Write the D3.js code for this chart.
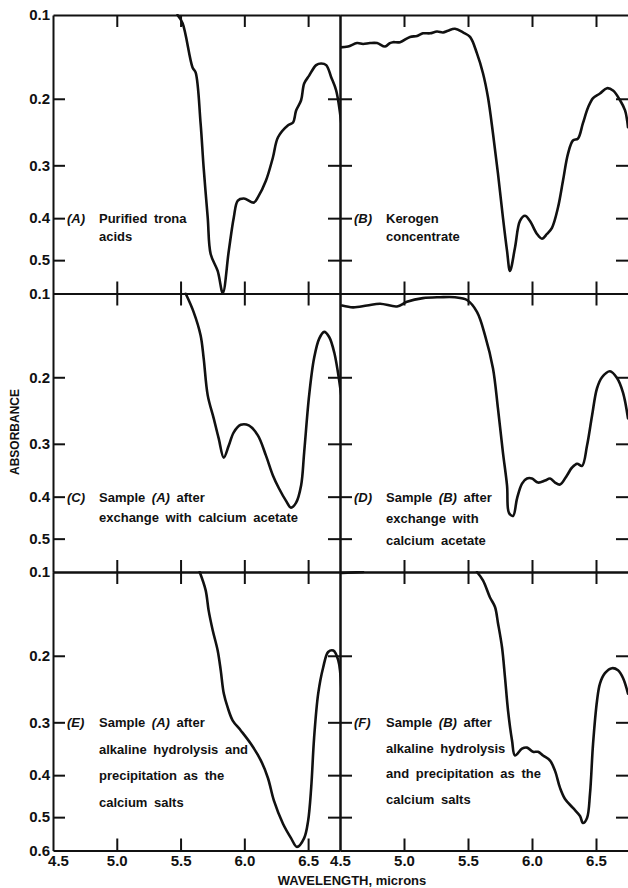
<!DOCTYPE html>
<html>
<head>
<meta charset="utf-8">
<script src="https://cdn.jsdelivr.net/npm/d3@7"></script>
<style>
  html, body { margin: 0; padding: 0; background: #fff; }
  svg { display: block; }
  text { font-family: "Liberation Sans", Arial, sans-serif; fill: #111; }
</style>
</head>
<body>
<svg id="chart" width="628" height="888"></svg>
<script>
// Wavelength axis (microns) and absorbance axis
const WAVE_TICKS = [4.5, 5.0, 5.5, 6.0, 6.5];
const WAVE_LABELS = ["4.5", "5.0", "5.5", "6.0", "6.5"];
const ABS_TICKS = [0.1, 0.2, 0.3, 0.4, 0.5, 0.6];
const ABS_LABELS = ["0.1", "0.2", "0.3", "0.4", "0.5", "0.6"];

// Spectra: [wavelength (microns), absorbance]
const specA = [
  [5.476,0.100],[5.516,0.109],[5.594,0.160],[5.618,0.166],[5.657,0.234],[5.681,0.304],
  [5.713,0.399],[5.736,0.484],[5.791,0.530],[5.831,0.598],[5.878,0.476],[5.917,0.399],
  [5.949,0.364],[5.996,0.360],[6.075,0.368],[6.106,0.358],[6.169,0.327],[6.224,0.287],
  [6.264,0.255],[6.343,0.237],[6.382,0.233],[6.406,0.216],[6.445,0.202],[6.469,0.180],
  [6.508,0.170],[6.563,0.157],[6.602,0.155],[6.642,0.157],[6.681,0.172],[6.720,0.189],
  [6.760,0.234]
];
const specB = [
  [4.500,0.136],[4.563,0.135],[4.633,0.131],[4.680,0.132],[4.734,0.131],[4.790,0.131],
  [4.852,0.135],[4.890,0.131],[4.914,0.130],[4.969,0.130],[5.047,0.124],[5.102,0.123],
  [5.148,0.120],[5.203,0.120],[5.258,0.118],[5.305,0.119],[5.344,0.117],[5.398,0.115],
  [5.461,0.119],[5.516,0.124],[5.570,0.143],[5.617,0.167],[5.656,0.198],[5.695,0.249],
  [5.734,0.314],[5.773,0.399],[5.805,0.476],[5.828,0.530],[5.867,0.468],[5.906,0.406],
  [5.945,0.395],[5.984,0.406],[6.039,0.435],[6.078,0.446],[6.117,0.435],[6.156,0.421],
  [6.203,0.378],[6.242,0.327],[6.281,0.281],[6.320,0.260],[6.359,0.257],[6.398,0.234],
  [6.438,0.212],[6.477,0.199],[6.531,0.193],[6.586,0.186],[6.633,0.189],[6.688,0.202],
  [6.727,0.216],[6.750,0.240]
];
const specC = [
  [5.540,0.100],[5.602,0.120],[5.657,0.147],[5.681,0.175],[5.713,0.225],[5.760,0.259],
  [5.799,0.291],[5.839,0.324],[5.878,0.303],[5.917,0.281],[5.972,0.269],[6.035,0.270],
  [6.106,0.286],[6.169,0.320],[6.224,0.357],[6.272,0.383],[6.327,0.409],[6.366,0.424],
  [6.406,0.413],[6.445,0.377],[6.469,0.315],[6.508,0.225],[6.547,0.175],[6.587,0.151],
  [6.626,0.143],[6.665,0.149],[6.705,0.168],[6.760,0.225]
];
const specD = [
  [4.516,0.113],[4.602,0.115],[4.711,0.113],[4.813,0.111],[4.945,0.114],[5.023,0.109],
  [5.148,0.105],[5.281,0.104],[5.398,0.104],[5.492,0.107],[5.570,0.120],[5.633,0.147],
  [5.695,0.188],[5.734,0.244],[5.773,0.315],[5.805,0.377],[5.820,0.436],[5.852,0.443],
  [5.883,0.404],[5.922,0.373],[5.961,0.363],[6.000,0.363],[6.047,0.371],[6.102,0.367],
  [6.141,0.363],[6.180,0.371],[6.219,0.375],[6.273,0.357],[6.313,0.342],[6.352,0.335],
  [6.391,0.339],[6.430,0.303],[6.469,0.255],[6.508,0.215],[6.547,0.200],[6.609,0.192],
  [6.664,0.201],[6.711,0.221],[6.750,0.259]
];
const specE = [
  [5.650,0.100],[5.697,0.120],[5.720,0.143],[5.752,0.167],[5.791,0.193],[5.815,0.220],
  [5.839,0.254],[5.870,0.276],[5.909,0.297],[5.972,0.314],[6.051,0.338],[6.130,0.370],
  [6.185,0.406],[6.232,0.458],[6.303,0.518],[6.366,0.560],[6.413,0.588],[6.469,0.560],
  [6.500,0.510],[6.524,0.428],[6.547,0.327],[6.579,0.254],[6.618,0.216],[6.657,0.195],
  [6.697,0.193],[6.736,0.206],[6.760,0.245]
];
const specF = [
  [5.570,0.100],[5.617,0.109],[5.672,0.128],[5.711,0.139],[5.734,0.158],[5.766,0.189],
  [5.789,0.230],[5.813,0.281],[5.844,0.332],[5.867,0.360],[5.922,0.347],[5.961,0.345],
  [6.008,0.353],[6.047,0.353],[6.086,0.360],[6.141,0.370],[6.180,0.391],[6.219,0.428],
  [6.258,0.454],[6.320,0.476],[6.375,0.497],[6.398,0.516],[6.430,0.502],[6.453,0.442],
  [6.477,0.338],[6.508,0.265],[6.531,0.239],[6.570,0.224],[6.625,0.217],[6.672,0.220],
  [6.711,0.231],[6.750,0.254]
];
const specFStart = [[4.516,0.101],[4.680,0.100]];

// Panel captions
const captionA = ["Purified trona", "acids"];
const captionB = ["Kerogen", "concentrate"];
const captionC = ["Sample (A) after", "exchange with calcium acetate"];
const captionD = ["Sample (B) after", "exchange with", "calcium acetate"];
const captionE = ["Sample (A) after", "alkaline hydrolysis and", "precipitation as the", "calcium salts"];
const captionF = ["Sample (B) after", "alkaline hydrolysis", "and precipitation as the", "calcium salts"];

const panels = [
  { tag: "(A)", col: 0, row: 0, series: [specA], caption: captionA, anchor: 0.4, gap: 18 },
  { tag: "(B)", col: 1, row: 0, series: [specB], caption: captionB, anchor: 0.4, gap: 18 },
  { tag: "(C)", col: 0, row: 1, series: [specC], caption: captionC, anchor: 0.4, gap: 20 },
  { tag: "(D)", col: 1, row: 1, series: [specD], caption: captionD, anchor: 0.4, gap: 21.5 },
  { tag: "(E)", col: 0, row: 2, series: [specE], caption: captionE, anchor: 0.3, gap: 26.5 },
  { tag: "(F)", col: 1, row: 2, series: [specF, specFStart], caption: captionF, anchor: 0.3, gap: 25.5 }
];

// ---- layout ----
const colX = [53, 340];
const colW = [287, 288];
const rowTop = r => 15 + r * 278.5;
const rowH = 278.5;
const TICK = 12;

const svg = d3.select("#chart");
const defs = svg.append("defs");

// Absorbance is plotted on a transmittance-linear scale
const trans = a => Math.pow(10, -a);

const xScale = c => d3.scaleLinear().domain([4.5, 6.75]).range([colX[c], colX[c] + colW[c]]);
const yScale = r => d3.scaleLinear().domain([trans(0.1), trans(0.6)]).range([rowTop(r), rowTop(r) + rowH]);

const innerX = WAVE_TICKS.slice(1);
const innerY = ABS_TICKS.slice(1, 5).map(trans);

function styleAxis(g) {
  g.selectAll("path.domain").attr("stroke", "#111").attr("stroke-width", 2);
  g.selectAll(".tick line").attr("stroke", "#111").attr("stroke-width", 2);
  g.selectAll(".tick text").remove();
}

panels.forEach((p, i) => {
  const x = xScale(p.col), y = yScale(p.row);
  const x0 = colX[p.col], x1 = colX[p.col] + colW[p.col];
  const y0 = rowTop(p.row), y1 = y0 + rowH;
  const g = svg.append("g");

  // inward ticks on all four sides
  g.append("g").attr("transform", `translate(0,${y0})`)
    .call(d3.axisBottom(x).tickValues(innerX).tickSize(TICK).tickSizeOuter(0)).call(styleAxis);
  g.append("g").attr("transform", `translate(0,${y1})`)
    .call(d3.axisTop(x).tickValues(innerX).tickSize(TICK).tickSizeOuter(0)).call(styleAxis);
  g.append("g").attr("transform", `translate(${x0},0)`)
    .call(d3.axisRight(y).tickValues(innerY).tickSize(TICK).tickSizeOuter(0)).call(styleAxis);
  const right = g.append("g").attr("transform", `translate(${x1},0)`)
    .call(d3.axisLeft(y).tickValues(innerY).tickSize(TICK).tickSizeOuter(0)).call(styleAxis);
  if (p.col === 1) {
    right.select("path.domain").attr("stroke", "#aaa").attr("stroke-width", 1)
      .attr("opacity", p.row < 2 ? 1 : 0);
  }

  // spectrum
  const clipId = "clip" + i;
  defs.append("clipPath").attr("id", clipId)
    .append("rect").attr("x", x0).attr("y", y0 - 1).attr("width", x1 - x0).attr("height", rowH + 2);
  const line = d3.line()
    .x(d => x(d[0]))
    .y(d => y(trans(d[1])))
    .curve(d3.curveCatmullRom.alpha(0.5));
  p.series.forEach(s => {
    g.append("path").datum(s)
      .attr("clip-path", `url(#${clipId})`)
      .attr("d", line)
      .attr("fill", "none")
      .attr("stroke", "#111")
      .attr("stroke-width", 2.6)
      .attr("stroke-linejoin", "round")
      .attr("stroke-linecap", "round");
  });

  // caption
  const base = y(trans(p.anchor)) + 5;
  g.append("text")
    .attr("x", x0 + 14).attr("y", base)
    .attr("font-size", 13).attr("font-weight", "bold").attr("font-style", "italic")
    .text(p.tag);
  p.caption.forEach((ln, k) => {
    const t = g.append("text")
      .attr("x", x0 + 46).attr("y", base + k * p.gap)
      .attr("font-size", 13).attr("font-weight", "bold")
      .attr("word-spacing", 3);
    ln.split(/(\([A-F]\))/).filter(s => s.length).forEach(part => {
      t.append("tspan")
        .attr("font-style", /^\([A-F]\)$/.test(part) ? "italic" : "normal")
        .text(part);
    });
  });
});

// Absorbance labels on the left of each row
[0, 1, 2].forEach(r => {
  const y = yScale(r);
  const vals = r === 2 ? ABS_TICKS : ABS_TICKS.slice(0, 5);
  const ax = svg.append("g").attr("transform", `translate(${colX[0]},0)`)
    .call(d3.axisLeft(y)
      .tickValues(vals.map(trans))
      .tickFormat(t => ABS_LABELS[ABS_TICKS.findIndex(a => Math.abs(trans(a) - t) < 1e-9)])
      .tickSize(0).tickPadding(3));
  ax.select("path.domain").remove();
  ax.selectAll(".tick text")
    .attr("font-family", "Liberation Sans, Arial, sans-serif")
    .attr("font-size", 15).attr("font-weight", "bold").attr("fill", "#111");
});

// Wavelength labels under both columns
[0, 1].forEach(c => {
  const ax = svg.append("g").attr("transform", `translate(0,${rowTop(2) + rowH})`)
    .call(d3.axisBottom(xScale(c))
      .tickValues(WAVE_TICKS)
      .tickFormat((d, i) => WAVE_LABELS[i])
      .tickSize(0).tickPadding(5));
  ax.select("path.domain").remove();
  ax.selectAll(".tick text")
    .attr("font-family", "Liberation Sans, Arial, sans-serif")
    .attr("font-size", 15).attr("font-weight", "bold").attr("fill", "#111");
  if (c === 0) ax.selectAll(".tick").filter((d, i) => i === 0).select("text").attr("dx", 5);
});

// Axis titles
svg.append("text")
  .attr("x", 352).attr("y", 885)
  .attr("text-anchor", "middle")
  .attr("font-size", 13).attr("font-weight", "bold")
  .text("WAVELENGTH, microns");

svg.append("text")
  .attr("transform", "translate(19,432) rotate(-90)")
  .attr("text-anchor", "middle")
  .attr("font-size", 12).attr("font-weight", "bold")
  .text("ABSORBANCE");
</script>
</body>
</html>
